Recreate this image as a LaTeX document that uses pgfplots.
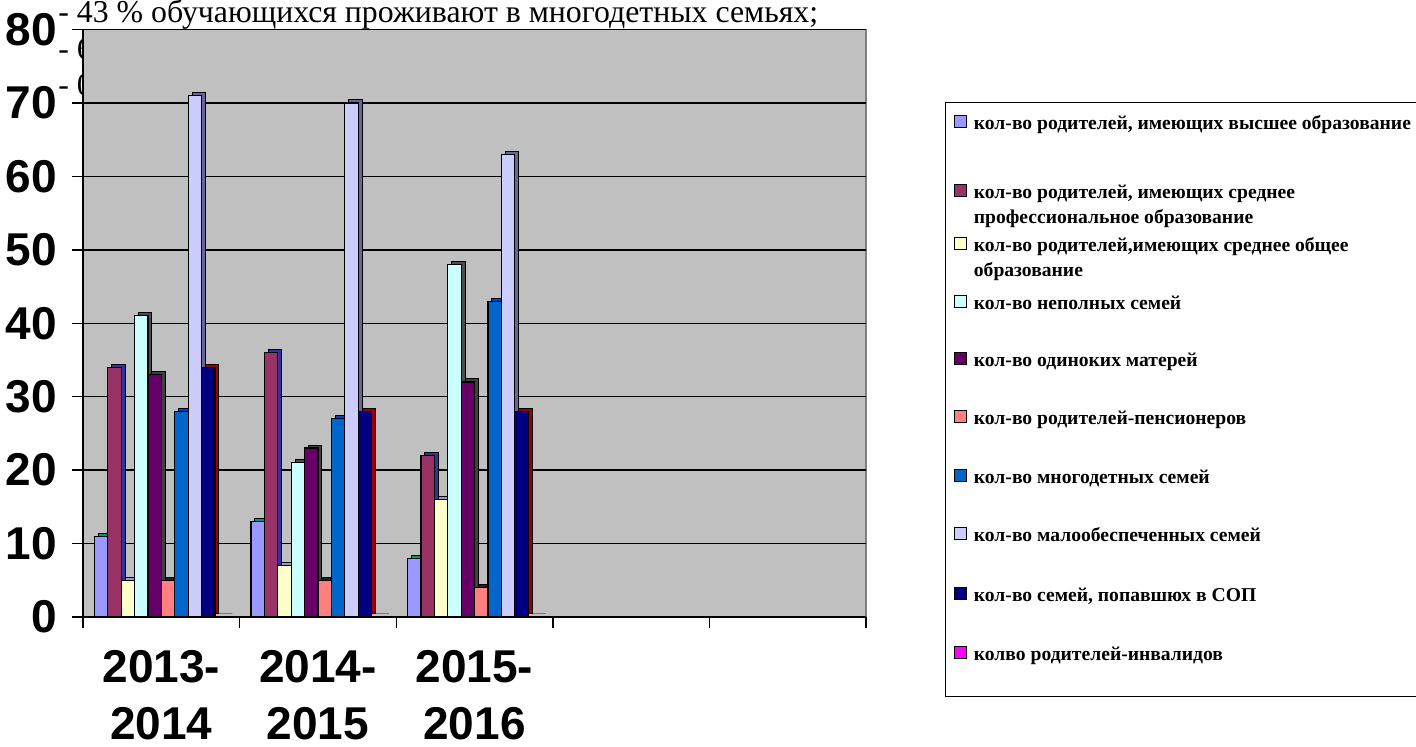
\documentclass[border=0pt]{standalone}
\usepackage{pgfplots}
\pgfplotsset{compat=1.18}
\usepackage{pgfplotstable}
\usepackage{fontspec}
\setmainfont{Liberation Serif}
\newfontfamily\arialfont{Liberation Sans}

\definecolor{c1}{HTML}{9999FF}
\definecolor{c2}{HTML}{993366}
\definecolor{c3}{HTML}{FFFFCC}
\definecolor{c4}{HTML}{CCFFFF}
\definecolor{c5}{HTML}{660066}
\definecolor{c6}{HTML}{FF8080}
\definecolor{c7}{HTML}{0066CC}
\definecolor{c8}{HTML}{CCCCFF}
\definecolor{c9}{HTML}{000080}
\definecolor{c10}{HTML}{FF00FF}
\definecolor{d1}{HTML}{009980}
\definecolor{d2}{HTML}{333399}
\definecolor{d3}{HTML}{9999CC}
\definecolor{d4}{HTML}{4D4D4D}
\definecolor{d5}{HTML}{404040}
\definecolor{d6}{HTML}{202020}
\definecolor{d7}{HTML}{0044CC}
\definecolor{d8}{HTML}{666699}
\definecolor{d9}{HTML}{990000}
\definecolor{d10}{HTML}{AAAA00}
\definecolor{wall}{HTML}{C0C0C0}
\definecolor{wallborder}{HTML}{808080}

\pgfplotstableread{
x s1 s2 s3 s4 s5 s6 s7 s8 s9 s10
0 11 34 5 41 33 5 28 71 34 0
1 13 36 7 21 23 5 27 70 28 0
2 8 22 16 48 32 4 43 63 28 0
}\datatable

\newcommand\TL[2]{\begin{tabular}[t]{@{}l@{}}#1\\#2\end{tabular}}
% legend image with an invisible extension below (controls row spacing)
\pgfplotsset{
  limg/.style={legend image code/.code={%
    \draw[##1, draw=black, line width=0.6pt] (0pt,1.2pt) rectangle (6pt,7.2pt);
    \path[draw=none, fill=none] (0pt,-#1) -- (0pt,0pt);}},
}

\begin{document}
\begin{tikzpicture}
\path[use as bounding box] (0,0) rectangle (708pt,373.5pt);
\begin{scope}[every node/.style={anchor=base west, inner sep=0pt, font=\fontsize{15.9}{18}\selectfont}]
\node at (29pt,362pt) {- 43 \% обучающихся проживают в многодетных семьях;};
\node at (29pt,343.75pt) {- 6};
\node at (29pt,325.5pt) {- 0};
\end{scope}
\begin{axis}[
  at={(41.5pt,65pt)}, anchor=south west,
  scale only axis, width=391.5pt, height=293.75pt,
  xmin=-0.5, xmax=4.5, ymin=0, ymax=80,
  axis lines*=left,
  axis line style={-, black, line width=0.7pt},
  axis background/.style={fill=wall, draw=wallborder, line width=0.7pt},
  ytick={0,10,20,30,40,50,60,70,80},
  xtick={-0.5,0.5,1.5,2.5,3.5,4.5},
  xticklabels={{2013-\\2014},{2014-\\2015},{2015-\\2016},{},{},{}},
  tick align=outside,
  major tick length=5.5pt,
  tick style={black, line width=0.7pt},
  ymajorgrids,
  grid style={black, line width=0.7pt},
  /pgf/number format/assume math mode=true,
  ticklabel style={font=\arialfont\bfseries\fontsize{23}{30}\selectfont, inner sep=0pt},
  yticklabel style={anchor=east, xshift=-7.5pt},
  xticklabel style={align=center, anchor=north, xshift=39.15pt, yshift=-11pt, text depth=0pt,
    font=\arialfont\bfseries\fontsize{23}{28.5}\selectfont},
  ybar=0pt,
  bar width=6.7pt,
  legend cell align=left,
  legend style={at={(1.1009,0.8766)}, anchor=north west, draw=black, line width=0.7pt, fill=white,
    inner xsep=4pt, inner ysep=6pt, row sep=12pt, column sep=3.5pt,
    font=\bfseries\fontsize{9.8}{12.5}\selectfont, nodes={inner sep=0pt, text height=0pt, text depth=0pt}},
]
% depth faces (drawn first)
\addplot[fill=d1, draw=black, line width=0.5pt, bar shift=-28.15pt, yshift=1.5pt, forget plot] table[x=x,y=s1]{\datatable};
\addplot[fill=d2, draw=black, line width=0.5pt, bar shift=-21.45pt, yshift=1.5pt, forget plot] table[x=x,y=s2]{\datatable};
\addplot[fill=d3, draw=black, line width=0.5pt, bar shift=-14.75pt, yshift=1.5pt, forget plot] table[x=x,y=s3]{\datatable};
\addplot[fill=d4, draw=black, line width=0.5pt, bar shift=-8.05pt, yshift=1.5pt, forget plot] table[x=x,y=s4]{\datatable};
\addplot[fill=d5, draw=black, line width=0.5pt, bar shift=-1.35pt, yshift=1.5pt, forget plot] table[x=x,y=s5]{\datatable};
\addplot[fill=d6, draw=black, line width=0.5pt, bar shift=5.35pt, yshift=1.5pt, forget plot] table[x=x,y=s6]{\datatable};
\addplot[fill=d7, draw=black, line width=0.5pt, bar shift=12.05pt, yshift=1.5pt, forget plot] table[x=x,y=s7]{\datatable};
\addplot[fill=d8, draw=black, line width=0.5pt, bar shift=18.75pt, yshift=1.5pt, forget plot] table[x=x,y=s8]{\datatable};
\addplot[fill=d9, draw=black, line width=0.5pt, bar shift=25.45pt, yshift=1.5pt, forget plot] table[x=x,y=s9]{\datatable};
\addplot[fill=d10, draw=black, line width=0.5pt, bar shift=32.15pt, yshift=1.5pt, forget plot] table[x=x,y=s10]{\datatable};
% front faces
\addplot[fill=c1, draw=black, line width=0.6pt, bar shift=-30.15pt, limg=15pt] table[x=x,y=s1]{\datatable};
\addlegendentry{кол-во родителей, имеющих высшее образование}
\addplot[fill=c2, draw=black, line width=0.6pt, bar shift=-23.45pt, limg=7pt] table[x=x,y=s2]{\datatable};
\addlegendentry{\TL{кол-во родителей, имеющих среднее}{профессиональное образование}}
\addplot[fill=c3, draw=black, line width=0.6pt, bar shift=-16.75pt, limg=9.5pt] table[x=x,y=s3]{\datatable};
\addlegendentry{\TL{кол-во родителей,имеющих среднее общее}{образование}}
\addplot[fill=c4, draw=black, line width=0.6pt, bar shift=-10.05pt, limg=9pt] table[x=x,y=s4]{\datatable};
\addlegendentry{кол-во неполных семей}
\addplot[fill=c5, draw=black, line width=0.6pt, bar shift=-3.35pt, limg=9.5pt] table[x=x,y=s5]{\datatable};
\addlegendentry{кол-во одиноких матерей}
\addplot[fill=c6, draw=black, line width=0.6pt, bar shift=3.35pt, limg=10pt] table[x=x,y=s6]{\datatable};
\addlegendentry{кол-во родителей-пенсионеров}
\addplot[fill=c7, draw=black, line width=0.6pt, bar shift=10.05pt, limg=9.5pt] table[x=x,y=s7]{\datatable};
\addlegendentry{кол-во многодетных семей}
\addplot[fill=c8, draw=black, line width=0.6pt, bar shift=16.75pt, limg=10.5pt] table[x=x,y=s8]{\datatable};
\addlegendentry{кол-во малообеспеченных семей}
\addplot[fill=c9, draw=black, line width=0.6pt, bar shift=23.45pt, limg=10pt] table[x=x,y=s9]{\datatable};
\addlegendentry{кол-во семей, попавшюх в СОП}
\addplot[fill=c10, draw=black, line width=0.6pt, bar shift=30.15pt, limg=11.8pt] table[x=x,y=s10]{\datatable};
\addlegendentry{колво родителей-инвалидов}
\end{axis}
\end{tikzpicture}
\end{document}
